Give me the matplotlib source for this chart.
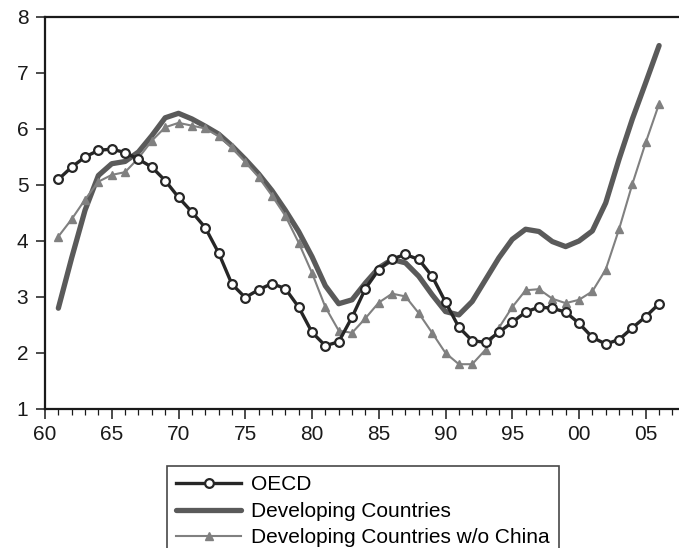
import matplotlib
matplotlib.use("Agg")
from matplotlib import pyplot as plt
import numpy as np

plt.rcParams['font.family'] = ['Liberation Sans', 'DejaVu Sans']

years = np.arange(1961, 2007)

oecd = [5.10, 5.32, 5.50, 5.62, 5.64, 5.58, 5.46, 5.32, 5.08, 4.78,
        4.52, 4.24, 3.79, 3.23, 2.99, 3.13, 3.24, 3.15, 2.82, 2.37,
        2.13, 2.20, 2.64, 3.15, 3.49, 3.68, 3.76, 3.67, 3.37, 2.91,
        2.46, 2.22, 2.19, 2.37, 2.55, 2.73, 2.82, 2.80, 2.73, 2.53,
        2.28, 2.16, 2.24, 2.45, 2.65, 2.88]

developing = [2.80, 3.70, 4.55, 5.17, 5.38, 5.42, 5.59, 5.88, 6.20, 6.28,
              6.18, 6.05, 5.91, 5.70, 5.46, 5.20, 4.90, 4.55, 4.17, 3.72,
              3.20, 2.88, 2.95, 3.25, 3.52, 3.67, 3.61, 3.37, 3.04, 2.74,
              2.68, 2.92, 3.31, 3.70, 4.03, 4.21, 4.17, 3.99, 3.90, 4.00,
              4.18, 4.68, 5.46, 6.18, 6.83, 7.49]

dev_no_china = [4.08, 4.39, 4.74, 5.06, 5.18, 5.23, 5.48, 5.79, 6.03, 6.11,
                6.06, 6.01, 5.87, 5.67, 5.41, 5.14, 4.81, 4.45, 3.97, 3.43,
                2.82, 2.40, 2.36, 2.62, 2.90, 3.06, 3.01, 2.71, 2.36, 2.00,
                1.80, 1.80, 2.06, 2.45, 2.82, 3.12, 3.14, 2.97, 2.89, 2.95,
                3.10, 3.49, 4.21, 5.02, 5.76, 6.45]

tick_years = np.arange(1960, 2010, 5)
tick_labels = ["60", "65", "70", "75", "80", "85", "90", "95", "00", "05"]

fig = plt.figure(figsize=(6.79, 5.48), dpi=100)
ax = fig.add_axes([45 / 679, 1 - 409 / 548, 1 - 45 / 679, (409 - 17) / 548])

l2, = ax.plot(years, developing, color="#5a5a5a", lw=3.8,
              solid_capstyle="round", solid_joinstyle="round",
              label="Developing Countries")
l3, = ax.plot(years, dev_no_china, color="#808080", lw=1.5, marker="^",
              ms=5.8, mfc="#808080", mec="#808080",
              label="Developing Countries w/o China")
l1, = ax.plot(years, oecd, color="#262626", lw=2.4, marker="o", ms=6.3,
              mfc="white", mec="#262626", mew=1.6, label="OECD")

ax.set_xlim(1960, 1960 + (679 - 45) / 13.35)
ax.set_ylim(1, 8)
ax.set_yticks(range(1, 9))
ax.set_xticks(tick_years)
ax.set_xticklabels(tick_labels)
ax.set_xticks(np.arange(1960, 2008), minor=True)

ax.spines['right'].set_visible(False)
for s in ['left', 'top', 'bottom']:
    ax.spines[s].set_linewidth(1.6)
    ax.spines[s].set_color("#1a1a1a")

ax.tick_params(axis='both', which='major', direction='out', labelsize=15,
               color="#1a1a1a", width=1.1, labelcolor="#1a1a1a")
ax.tick_params(axis='x', which='major', length=7.2, pad=4.5)
ax.tick_params(axis='x', which='minor', length=4, width=0.9, color="#1a1a1a")
ax.tick_params(axis='y', which='major', length=6.5, pad=5.5)

leg = fig.legend([l1, l2, l3],
                 ["OECD", "Developing Countries", "Developing Countries w/o China"],
                 loc="upper left", bbox_to_anchor=(167 / 679, 1 - 466 / 548),
                 fontsize=15, frameon=True, fancybox=False, edgecolor="#1a1a1a",
                 handlelength=3.1, handletextpad=0.5, borderpad=0.45,
                 labelspacing=0.36, numpoints=1, borderaxespad=0)
leg.get_frame().set_linewidth(1.2)

fig.savefig("out.png", dpi=100)
